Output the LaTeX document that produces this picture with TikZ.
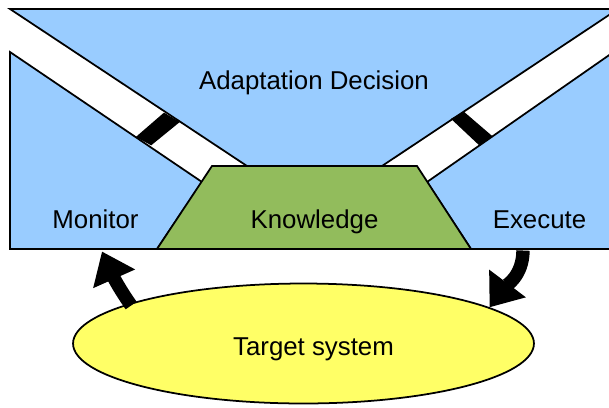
\documentclass[tikz,border=0pt]{standalone}
\usepackage{fontspec}
\setmainfont{Liberation Sans}
\usetikzlibrary{shapes.geometric,arrows.meta}
\definecolor{decblue}{RGB}{153,204,255}
\definecolor{knowgreen}{RGB}{146,188,92}
\definecolor{tgtyellow}{RGB}{255,255,102}
\begin{document}
\begin{tikzpicture}[x=0.02cm,y=-0.02cm,
  region/.style={draw,line width=1pt,line join=miter,fill=decblue},
  lbl/.style={anchor=base,inner sep=0pt,font=\fontsize{14.7}{17}\selectfont},
  band/.style={fill=black},
  bigarrow/.style={line width=7.6pt,-{Triangle[length=17pt,width=25pt]}}]
\useasboundingbox (0,0) rectangle (609,407);
\fill[white] (0,0) rectangle (609,407);

\draw[region] (10,9) -- (615,9) -- (615,11) -- (382,166) -- (247,166) -- cycle;
\draw[region] (10,52) -- (202,182) -- (157,249) -- (10,249) -- cycle;
\draw[region] (615,51) -- (427,182) -- (471,249) -- (615,249) -- cycle;
\draw[region,fill=knowgreen] (212,166) -- (417,166) -- (471,249) -- (157,249) -- cycle;
\fill[band] (164,112.6) -- (179.8,122) -- (151.2,145.3) -- (135.8,137) -- cycle;
\fill[band] (451,118.8) -- (464,111.8) -- (492.4,136.2) -- (479.4,145.5) -- cycle;

\node[lbl] (decision) at (314,89) {Adaptation Decision};
\node[lbl] (monitor) at (95.5,228) {Monitor};
\node[lbl] (knowledge) at (314.5,228) {Knowledge};
\node[lbl] (execute) at (539.5,228) {Execute};

\node[draw,ellipse,line width=1pt,fill=tgtyellow,minimum width=9.22cm,minimum height=2.4cm,inner sep=0pt] (target) at (303.5,343.5) {};
\node[lbl] (targettext) at (313.5,355) {Target system};

\coordinate (monin) at (102,251.5);
\coordinate (exeout) at (523,250.5);
\draw[bigarrow,shorten <=-1.5pt] (target.167) to[out=125,in=-66] (monin);
\draw[bigarrow] (exeout) to[out=-90,in=53] (target.11);
\end{tikzpicture}
\end{document}
